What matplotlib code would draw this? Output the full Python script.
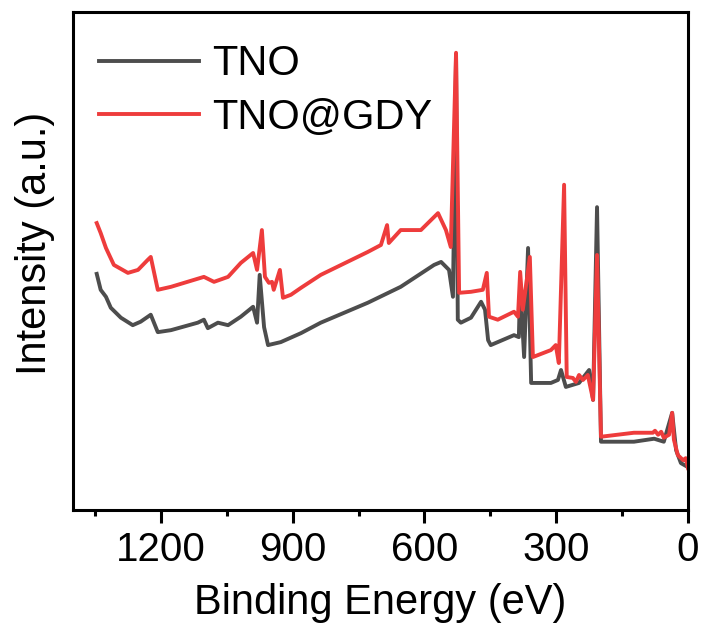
import numpy as np
import matplotlib
matplotlib.use("Agg")
import matplotlib.pyplot as plt
from matplotlib.ticker import MultipleLocator

plt.rcParams['font.family'] = ['Liberation Sans', 'DejaVu Sans']

# XPS survey spectra (binding energy in eV, intensity in a.u.)
tno_be = [1346, 1337, 1325, 1314, 1291, 1264, 1246, 1223, 1207, 1177, 1116, 1102, 1093, 1070,
          1047, 1018, 990, 981, 975, 965, 956, 927, 881, 836, 729, 654, 578, 562, 544, 535,
          528, 524, 517, 494, 471, 462, 455, 449, 396, 385, 382, 373, 364, 357, 312, 296,
          289, 278, 248, 225, 216, 207, 198, 123, 77, 55, 36, 27, 16, 0]
tno_int = [47.4, 44.2, 42.8, 40.6, 38.6, 37.1, 37.8, 39.2, 35.7, 36.1, 37.6, 38.2, 36.5, 37.6,
           37.1, 38.8, 40.8, 37.6, 47.2, 36.7, 33.1, 33.7, 35.5, 37.6, 41.6, 44.8, 49.2, 49.8, 48.2, 42.8,
           91.5, 38.2, 37.6, 38.6, 41.8, 40.2, 34.1, 33.1, 35.1, 34.7, 45.2, 30.7, 52.6, 25.5, 25.5, 26.1,
           28.1, 24.7, 25.5, 28.1, 22.1, 60.8, 13.7, 13.7, 14.3, 13.7, 19.5, 12.0, 9.4, 8.6]

gdy_be = [1346, 1337, 1325, 1307, 1275, 1252, 1230, 1223, 1207, 1177, 1102, 1079, 1047, 1018,
          990, 981, 970, 963, 954, 947, 943, 929, 922, 904, 881, 836, 729, 699, 685, 681,
          654, 608, 569, 551, 540, 528, 521, 494, 467, 458, 453, 433, 396, 387, 382, 376,
          360, 353, 312, 301, 294, 282, 276, 262, 255, 248, 239, 228, 216, 207, 198, 123,
          80, 75, 68, 61, 55, 43, 36, 32, 23, 11, 5, 0]
gdy_int = [57.6, 55.6, 52.6, 49.2, 47.6, 48.2, 50.2, 50.8, 44.2, 44.8, 46.8, 45.8, 46.8, 49.6,
           51.6, 48.2, 56.2, 46.8, 45.6, 45.8, 44.2, 48.2, 42.6, 43.2, 44.6, 47.2, 51.8, 53.2, 57.2, 53.6,
           56.2, 56.2, 59.6, 56.2, 52.8, 91.8, 43.6, 43.8, 44.2, 47.6, 38.8, 38.2, 39.8, 38.8, 47.8, 40.2,
           50.8, 30.7, 32.1, 33.1, 29.5, 65.3, 26.7, 26.5, 25.7, 27.1, 26.1, 27.1, 22.1, 51.2, 14.7, 15.5,
           15.5, 15.9, 15.1, 15.7, 14.5, 15.1, 19.5, 14.1, 11.0, 10.0, 10.4, 8.4]

fig = plt.figure(figsize=(7.02, 6.28), dpi=100)
ax = fig.add_axes([0.104, 0.188, 0.876, 0.793])

ax.plot(tno_be, tno_int, color='#4d4d4d', lw=2.8, label='TNO')
ax.plot(gdy_be, gdy_int, color='#ee3c3c', lw=2.8, label='TNO@GDY')

ax.set_xlim(1400, 0)
ax.set_ylim(0, 100)
ax.xaxis.set_major_locator(MultipleLocator(300))
ax.xaxis.set_minor_locator(MultipleLocator(150))
ax.set_yticks([])
ax.tick_params(axis='x', which='major', direction='out', length=9, width=2.2,
               labelsize=29, pad=6)
ax.tick_params(axis='x', which='minor', direction='out', length=4, width=2.2)
for sp in ax.spines.values():
    sp.set_linewidth(2.2)

ax.set_xlabel('Binding Energy (eV)', fontsize=30, labelpad=10)
ax.set_ylabel('Intensity (a.u.)', fontsize=30)
ax.yaxis.set_label_coords(-0.03, 0.535)

ax.legend(loc='upper left', bbox_to_anchor=(0.043, 0.935), frameon=False, fontsize=30,
          handlelength=2.4, handletextpad=0.3, labelspacing=0.32, borderaxespad=0, borderpad=0)

fig.savefig('out.png', dpi=100)
